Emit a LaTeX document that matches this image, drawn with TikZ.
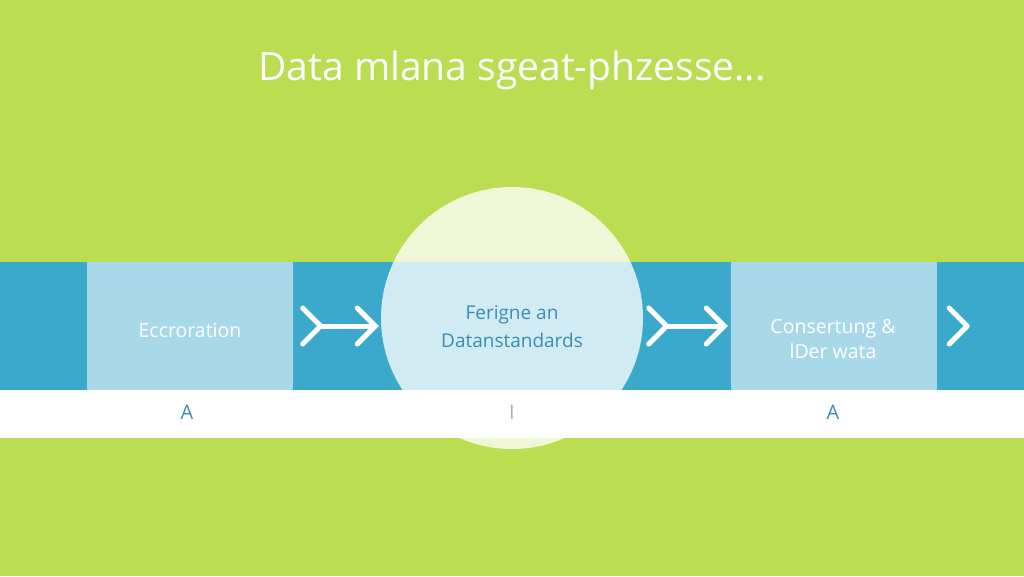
\documentclass[tikz,border=0pt]{standalone}
\usepackage{fontspec}
\setmainfont{Open Sans}
\usetikzlibrary{arrows.meta}
\definecolor{limegreen}{HTML}{BADD52}
\definecolor{bandblue}{HTML}{3AA9CC}
\definecolor{paleblue}{HTML}{A9D9E8}
\definecolor{tealtext}{HTML}{3A8DB3}
\definecolor{bargray}{HTML}{9AB4C4}
\tikzset{
  phasebox/.style={fill=paleblue, minimum width=206pt, minimum height=128pt, inner sep=0pt},
  boxtext/.style={white, align=center, font=\fontsize{19.5}{25}\selectfont},
  flow/.style={white, line width=5pt, line cap=round, line join=round,
    {Straight Barb[reversed, length=18pt, width=36pt, line cap=round]}-{Straight Barb[length=18pt, width=36pt, line cap=round]}},
  marker/.style={tealtext, font=\fontsize{20}{24}\selectfont}
}

\begin{document}
\begin{tikzpicture}[x=1pt, y=-1pt]
		%%%%% START %%%%%
		\useasboundingbox (0,0) rectangle (1024,576);
		\fill[limegreen] (0,0) rectangle (1024,576);
		
		\node[white, font=\fontsize{39}{45}\selectfont] (title) at (512,70) {Data mlana sgeat-phzesse...};
		
		\fill[bandblue] (0,262) rectangle (1024,390);
		\fill[white] (0,390) rectangle (1024,438);
		
		\node[phasebox] (collect) at (190,326) {};
		\node[phasebox] (store) at (834,326) {};
		\node[boxtext] (collecttext) at (190,330) {Eccroration};
		\node[boxtext] (storetext) at (833,339) {Consertung \&\\lDer wata};
		
		\node[circle, minimum size=262pt, inner sep=0pt, fill=white, fill opacity=0.77] (hub) at (512,318) {};
		\node[tealtext, align=center, font=\fontsize{19}{28}\selectfont] (hubtext) at (512,327) {Ferigne an\\Datanstandards};
		
		\draw[flow] ([xshift=7pt]collect.east) -- ([xshift=-2pt]collect.east -| hub.west);
		\draw[flow] ([xshift=3pt]store.west -| hub.east) -- ([xshift=-3pt]store.west);
		\draw[white, line width=5pt, line cap=round, line join=round]
			([shift={(12pt,18pt)}]store.east) -- ([shift={(30pt,0pt)}]store.east) -- ([shift={(12pt,-18pt)}]store.east);
		
		\node[marker] (markone) at (187,412) {A};
		\node[bargray, font=\fontsize{20}{24}\selectfont] (marktwo) at (512,412) {I};
		\node[marker] (markthree) at (833,412) {A};
		%%%%% END %%%%%
\end{tikzpicture}
\end{document}
